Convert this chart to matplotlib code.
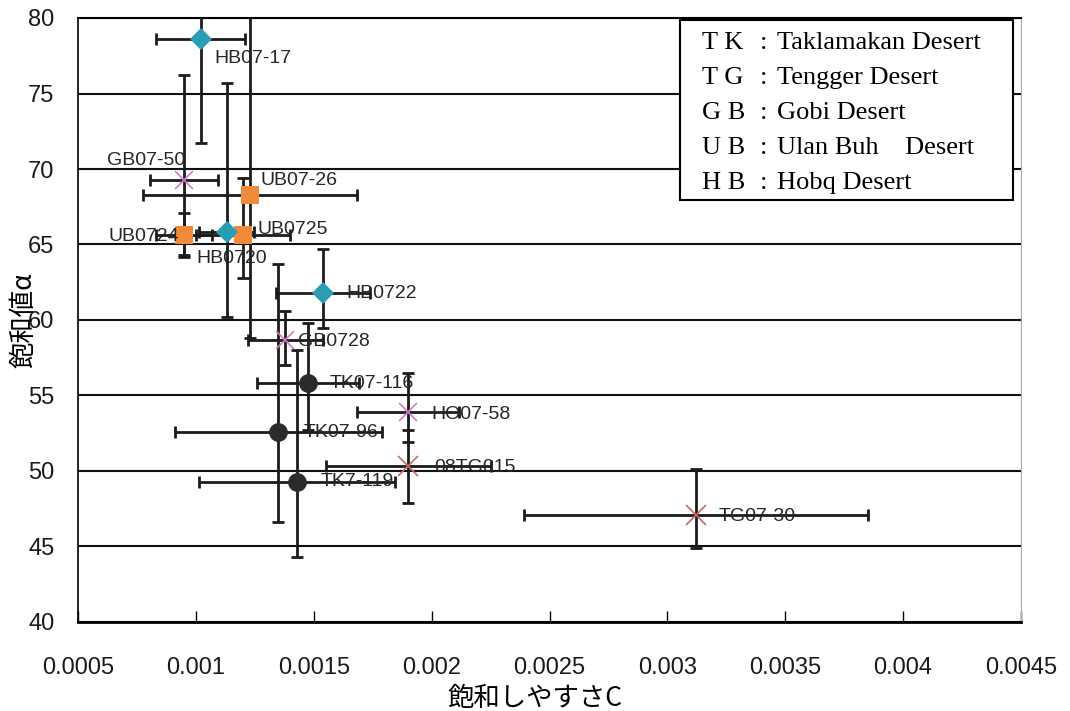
import matplotlib
matplotlib.use('Agg')
from matplotlib import pyplot as plt
from matplotlib.patches import Rectangle

# sample data
names = ['HB07-17', 'GB07-50', 'UB07-26', 'UB0725', 'HB0720', 'UB0724', 'HB0722',
         'GB0728', 'TK07-116', 'TK07-96', 'TK7-119', 'HO07-58', '08TG015', 'TG07-30']
groups = ['HB', 'GB', 'UB', 'UB', 'HB', 'UB', 'HB',
          'GB', 'TK', 'TK', 'TK', 'GB', 'TG', 'TG']
c_val = [0.00102, 0.00095, 0.00123, 0.00120, 0.00113, 0.00095, 0.00154,
         0.00138, 0.001475, 0.00135, 0.00143, 0.00190, 0.00190, 0.00312]
a_val = [78.6, 69.3, 68.3, 65.6, 65.8, 65.6, 61.8,
         58.7, 55.8, 52.6, 49.3, 53.9, 50.3, 47.1]
c_err = [0.00019, 0.000144, 0.000453, 0.00020, 0.000115, 0.00012, 0.00020,
         0.00016, 0.000216, 0.00044, 0.000415, 0.000216, 0.00035, 0.00073]
a_err_up = [6.9, 6.9, 12.0, 3.8, 9.9, 1.5, 2.9, 1.9, 4.0, 11.1, 8.7, 2.6, 2.4, 3.0]
a_err_lo = [6.9, 5.0, 9.5, 2.8, 5.6, 1.4, 2.3, 1.7, 3.1, 6.0, 5.0, 2.0, 2.4, 2.2]

x_ticks = [0.0005, 0.001, 0.0015, 0.002, 0.0025, 0.003, 0.0035, 0.004, 0.0045]
x_ticklabels = ['0.0005', '0.001', '0.0015', '0.002', '0.0025', '0.003', '0.0035', '0.004', '0.0045']
y_ticks = [40, 45, 50, 55, 60, 65, 70, 75, 80]

legend_abbr = ['T K', 'T G', 'G B', 'U B', 'H B']
legend_desc = ['Taklamakan Desert', 'Tengger Desert', 'Gobi Desert',
               'Ulan Buh    Desert', 'Hobq Desert']

# label offsets in pixels (dx, dy)
label_off = [(14, -19), (-77, 19), (10, 14), (14, 6), (-30, -26), (-76, -1), (23, -1),
             (13, -2), (22, 0), (25, -1), (23, 0), (23, -2), (26, -1), (23, -2)]

styles = {
    'HB': dict(marker='D', color='#2a9db2', ms=11.5, mew=0),
    'UB': dict(marker='s', color='#ee8a3a', ms=13.5, mew=0),
    'TK': dict(marker='o', color='#2b2b2b', ms=13.5, mew=0),
    'GB': dict(marker='x', color='#d07ec0', ms=13, mew=1.2),
    'TG': dict(marker='x', color='#c8686a', ms=14, mew=1.2),
}

W, H = 1070, 711
fig = plt.figure(figsize=(W / 100, H / 100), dpi=100)
ax = fig.add_axes([78 / W, 1 - 622 / H, 943 / W, 604 / H])

ax.errorbar(c_val, a_val, xerr=[c_err, c_err], yerr=[a_err_lo, a_err_up], fmt='none',
            ecolor='#1c1c1c', elinewidth=2, capsize=4.5, capthick=2, zorder=3)

for i in range(len(names)):
    st = styles[groups[i]]
    ax.plot(c_val[i], a_val[i], linestyle='none', marker=st['marker'], ms=st['ms'],
            color=st['color'], mec=st['color'], mew=st['mew'], zorder=4)
    ax.annotate(names[i], (c_val[i], a_val[i]), xytext=label_off[i],
                textcoords='offset pixels', ha='left', va='center',
                fontsize=14, family='Liberation Sans', color='#262626', zorder=5)

ax.set_xlim(0.0005, 0.0045)
ax.set_ylim(40, 80)
ax.set_xticks(x_ticks)
ax.set_xticklabels(x_ticklabels)
ax.set_yticks(y_ticks)
for lab in ax.get_xticklabels() + ax.get_yticklabels():
    lab.set_family('Liberation Sans')
    lab.set_fontsize(17)
    lab.set_color('#1a1a1a')
ax.tick_params(axis='x', direction='in', length=8, width=1, pad=25)
ax.tick_params(axis='y', length=0, pad=17)

ax.yaxis.grid(True, color='#111111', linewidth=1.5)
ax.set_axisbelow(True)
ax.spines['left'].set_linewidth(1.2)
ax.spines['bottom'].set_linewidth(2)
ax.spines['top'].set_linewidth(1.5)
ax.spines['right'].set_color('#aaaaaa')
ax.spines['right'].set_linewidth(0.8)

ax.set_xlabel('飽和しやすさC', family=['Noto Sans CJK JP', 'DejaVu Sans'], fontsize=19)
ax.xaxis.set_label_coords(0.485, -0.105)
ax.set_ylabel('飽和値α', family=['Noto Sans CJK JP', 'DejaVu Sans'], fontsize=19)
ax.yaxis.set_label_coords(-0.043, 0.5)

# legend box drawn by hand
fig.patches.append(Rectangle((680 / W, 1 - 200 / H), 333 / W, 180 / H,
                             transform=fig.transFigure, facecolor='white',
                             edgecolor='black', linewidth=1.5, zorder=10))
rows_y = [43, 78, 113, 148, 183]
for i in range(len(legend_abbr)):
    yy = 1 - rows_y[i] / H
    fig.text(702 / W, yy, legend_abbr[i], family='Liberation Serif', fontsize=19,
             va='center', zorder=11)
    fig.text(760 / W, yy, ':', family='Liberation Serif', fontsize=19,
             va='center', zorder=11)
    fig.text(777 / W, yy, legend_desc[i], family='Liberation Serif', fontsize=19,
             va='center', zorder=11)

plt.savefig('out.png', dpi=100)
